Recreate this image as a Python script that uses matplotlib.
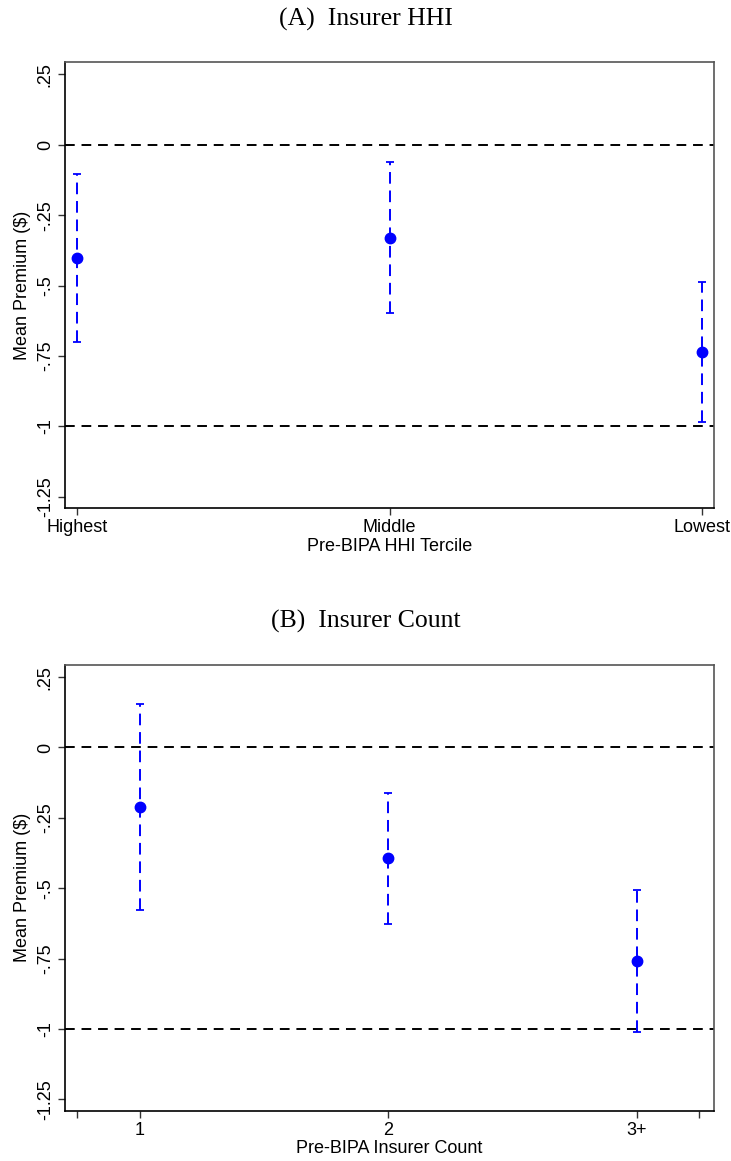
import matplotlib
matplotlib.use("Agg")
import matplotlib.pyplot as plt
from matplotlib import font_manager

# ---- data ----
hhi_labels = ["Highest", "Middle", "Lowest"]
hhi_est = [-0.403, -0.330, -0.736]
hhi_lo = [-0.701, -0.599, -0.986]
hhi_hi = [-0.103, -0.060, -0.487]

cnt_labels = ["1", "2", "3+"]
cnt_est = [-0.211, -0.394, -0.759]
cnt_lo = [-0.576, -0.628, -1.012]
cnt_hi = [0.156, -0.160, -0.507]

yticks = [0.25, 0, -0.25, -0.5, -0.75, -1, -1.25]
ytick_labels = [".25", "0", "-.25", "-.5", "-.75", "-1", "-1.25"]
ref_lines = [0, -1]

names = {f.name for f in font_manager.fontManager.ttflist}
sans = "Liberation Sans Narrow" if "Liberation Sans Narrow" in names else "Liberation Sans"

fig = plt.figure(figsize=(7.31, 11.61), dpi=100)

def panel(rect, title, title_y, labels, est, lo, hi, xlabel, xlim, extra_ticks):
    ax = fig.add_axes(rect)
    x = list(range(1, len(labels) + 1))
    yerr = [[e - l for e, l in zip(est, lo)], [h - e for e, h in zip(est, hi)]]
    for r in ref_lines:
        ax.axhline(r, color="black", lw=1.4, ls=(0, (5, 3.5)), zorder=1)
    eb = ax.errorbar(x, est, yerr=yerr, fmt="o", color="#0000ff", ms=7.5,
                     elinewidth=1.4, capsize=3.2, capthick=1.3, zorder=3)
    eb[2][0].set_linestyle((0, (6, 3.5)))
    ax.set_xlim(*xlim)
    ax.set_ylim(-1.29, 0.294)
    ticks = x + extra_ticks
    tlabels = labels + [""] * len(extra_ticks)
    ax.set_xticks(ticks)
    ax.set_xticklabels(tlabels, fontsize=13, family=sans)
    ax.set_yticks(yticks)
    ax.set_yticklabels(ytick_labels, fontsize=13, family=sans, rotation=90, va="center")
    ax.tick_params(direction="out", length=5, width=1, color="#333333", pad=3)
    ax.set_xlabel(xlabel, fontsize=13, family=sans, labelpad=1)
    ax.set_ylabel("Mean Premium ($)", fontsize=13, family=sans, labelpad=4)
    for s in ["left", "bottom"]:
        ax.spines[s].set_color("black")
        ax.spines[s].set_linewidth(1.2)
    for s in ["top", "right"]:
        ax.spines[s].set_color("#555555")
        ax.spines[s].set_linewidth(1.2)
    fig.text(0.5, title_y, title, ha="center", va="center", fontsize=18.5,
             family="Liberation Serif")
    return ax

panel([0.0889, 0.5624, 0.888, 0.3842], "(A)  Insurer HHI", 0.9835,
      hhi_labels, hhi_est, hhi_lo, hhi_hi, "Pre-BIPA HHI Tercile",
      (0.96, 3.04), [])
panel([0.0889, 0.0433, 0.888, 0.3842], "(B)  Insurer Count", 0.4645,
      cnt_labels, cnt_est, cnt_lo, cnt_hi, "Pre-BIPA Insurer Count",
      (0.70, 3.31), [0.75, 3.25])

fig.savefig("out.png", dpi=100)
